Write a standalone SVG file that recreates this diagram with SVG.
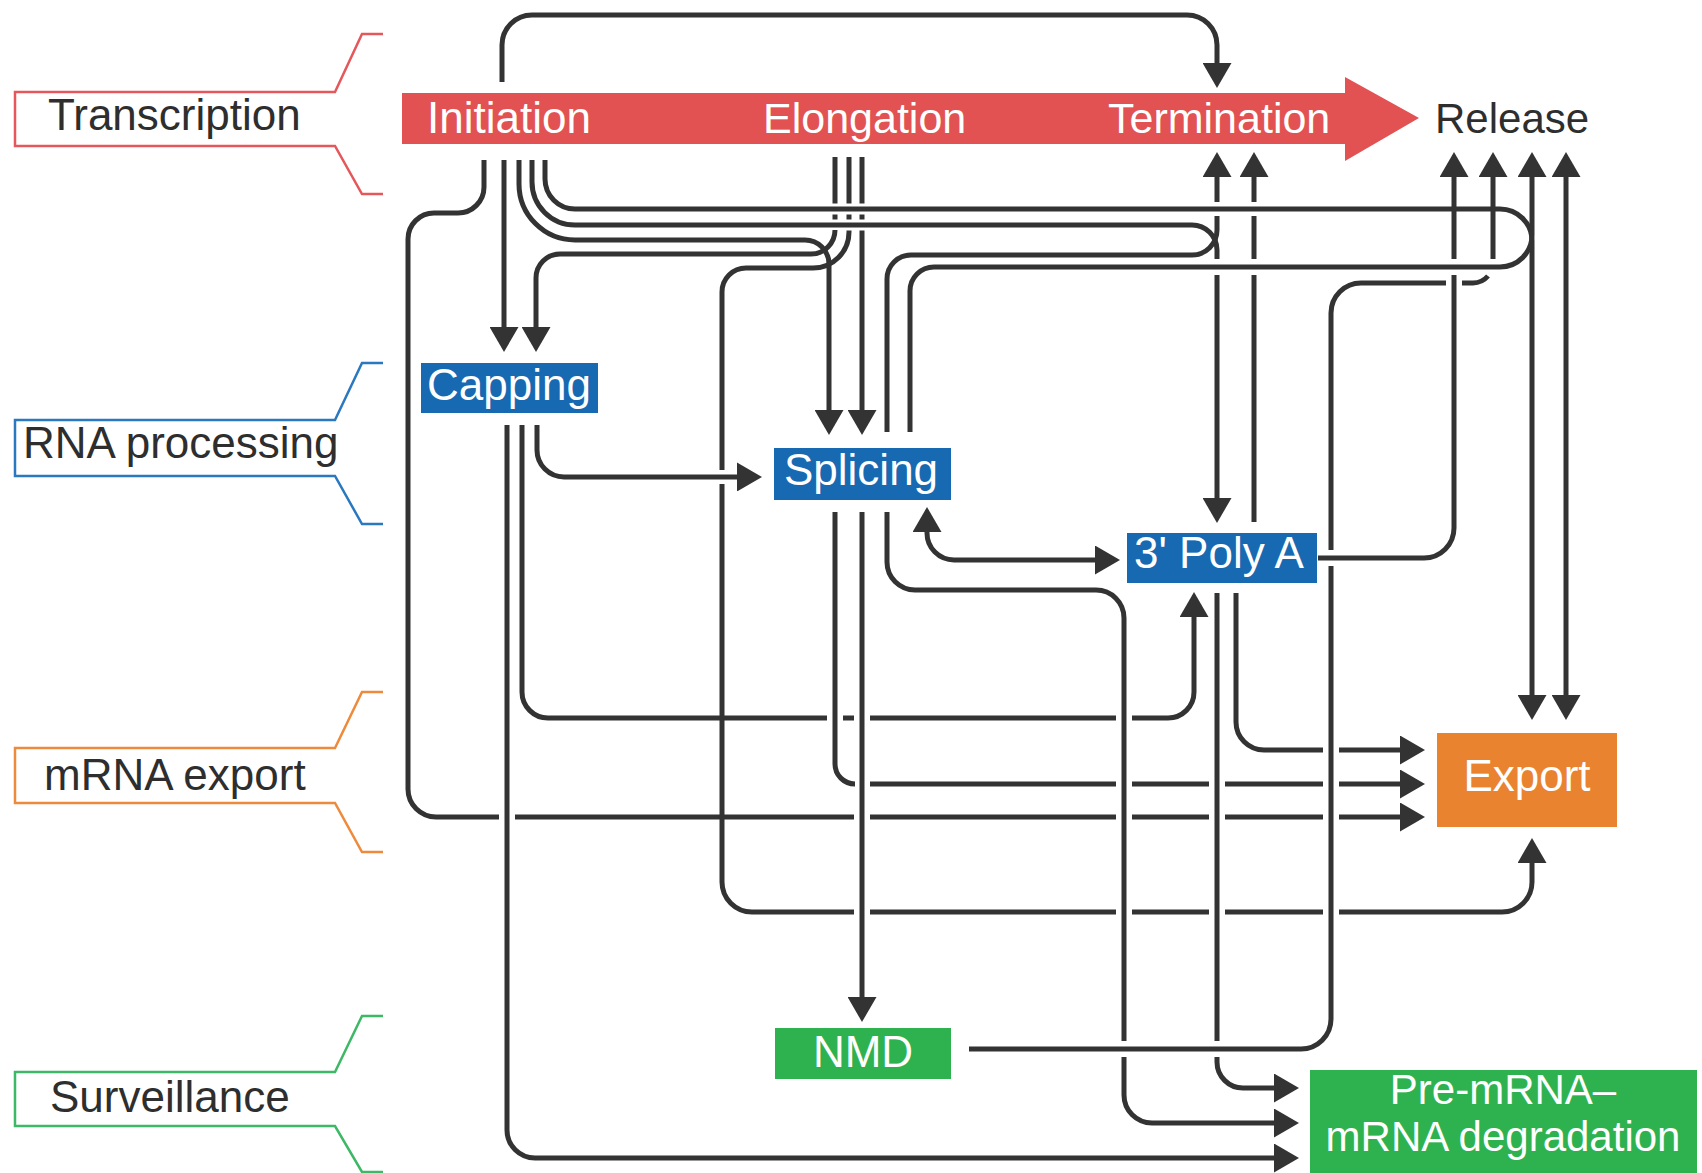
<svg xmlns="http://www.w3.org/2000/svg" width="1702" height="1173" viewBox="0 0 1702 1173">
<style>
text{font-family:"Liberation Sans",Arial,Helvetica,sans-serif;font-size:44px}
.w{fill:#fff}
.k{fill:#2e2e2e}
.c path{fill:none;stroke:#333;stroke-width:5}
.ar{marker-end:url(#ah)}
.br{fill:none;stroke-width:2.5}
.blue{fill:#1769B2}
.green{fill:#2EB24F}
</style>
<defs>
<marker id="ah" viewBox="0 0 25 29" refX="0" refY="14.5" markerWidth="25" markerHeight="29" markerUnits="userSpaceOnUse" orient="auto-start-reverse"><path d="M0,0L25,14.5L0,29Z" fill="#333"/></marker>
</defs>
<rect width="1702" height="1173" fill="#fff"/>

<g id="lane-transcription"><path class="br" stroke="#E5575A" d="M383,34H362L335,92H15V146H335L362,194H383"/><text x="48" y="130" class="k">Transcription</text></g>
<g id="lane-rna-processing"><path class="br" stroke="#2A78BF" d="M383,363H362L335,420H15V476H335L362,524H383"/><text x="23" y="458" class="k">RNA processing</text></g>
<g id="lane-mrna-export"><path class="br" stroke="#EE8A3C" d="M383,692H362L335,748H15V803H335L362,852H383"/><text x="44" y="790" class="k">mRNA export</text></g>
<g id="lane-surveillance"><path class="br" stroke="#3DB866" d="M383,1016H362L335,1072H15V1126H335L362,1172H383"/><text x="50" y="1112" class="k">Surveillance</text></g>

<g id="transcription-bar"><path d="M402,93H1345V77L1419,118L1345,161V144H402Z" fill="#E25252"/></g>
<g id="initiation"><text x="427" y="133" class="w">Initiation</text></g>
<g id="elongation"><text x="763" y="133" class="w" style="font-size:43px">Elongation</text></g>
<g id="termination"><text x="1108" y="133" class="w" style="font-size:43px">Termination</text></g>
<g id="release"><text x="1435" y="133" class="k" style="font-size:42px">Release</text></g>

<g id="capping"><rect x="421" y="363" width="177" height="50" class="blue"/><text x="427" y="400" class="w">Capping</text></g>
<g id="splicing"><rect x="774" y="448" width="177" height="52" class="blue"/><text x="784" y="485" class="w">Splicing</text></g>
<g id="polya"><rect x="1127" y="533" width="190" height="50" class="blue"/><text x="1134" y="568" class="w">3' Poly A</text></g>
<g id="export"><rect x="1437" y="733" width="180" height="94" fill="#E9832F"/><text x="1527" y="791" class="w" text-anchor="middle">Export</text></g>
<g id="nmd"><rect x="775" y="1028" width="176" height="51" class="green"/><text x="863" y="1067" class="w" text-anchor="middle">NMD</text></g>
<g id="degradation"><rect x="1310" y="1070" width="387" height="103" class="green"/><text x="1503" y="1104" class="w" text-anchor="middle" style="font-size:42px">Pre-mRNA–</text><text x="1503" y="1151" class="w" text-anchor="middle" style="font-size:42px">mRNA degradation</text></g>

<g id="connectors" class="c">
<path class="ar" d="M502,82V45A30,30 0 0 1 532,15H1187A30,30 0 0 1 1217,45V63"/>
<path class="ar" d="M484,160V187A26,26 0 0 1 458,213H434A26,26 0 0 0 408,239V789A28,28 0 0 0 436,817H499M515,817H854M870,817H1116M1132,817H1209M1225,817H1323M1339,817H1400"/>
<path class="ar" d="M504,160V327"/>
<path class="ar" d="M519,160V184A56,56 0 0 0 575,240H805A24,24 0 0 1 829,264V410"/>
<path class="ar" d="M532,160V182A43,43 0 0 0 575,225H1192A25,25 0 0 1 1217,250V259M1217,275V498"/>
<path class="ar" d="M545,160V179A30,30 0 0 0 575,209H1500A32,32 0 0 1 1532,241V695"/>
<path class="ar" d="M835,157V203.5M835,214.5V219.5M835,230A24,24 0 0 1 811,254H560A24,24 0 0 0 536,278V327"/>
<path class="ar" d="M849,157V203.5M849,214.5V219.5M849,230.5V232A36,36 0 0 1 813,268H746A24,24 0 0 0 722,292V470M722,484V882A30,30 0 0 0 752,912H854M870,912H1116M1132,912H1209M1225,912H1323M1339,912H1502A30,30 0 0 0 1532,882V863"/>
<path class="ar" d="M862,157V203.5M862,214.5V219.5M862,230.5V410"/>
<path class="ar" d="M507,425V1130A28,28 0 0 0 535,1158H1274"/>
<path class="ar" d="M522,425V692A26,26 0 0 0 548,718H827M843,718H854M870,718H1116M1132,718H1168A26,26 0 0 0 1194,692V617"/>
<path class="ar" d="M537,425V450A27,27 0 0 0 564,477H737"/>
<path class="ar" d="M887,432V279A24,24 0 0 1 911,255H1192A25,25 0 0 0 1217,230V216M1217,202V177"/>
<path class="ar" d="M910,432V291A24,24 0 0 1 934,267H1500A32,32 0 0 0 1532,235V177"/>
<path class="ar" d="M1254,522V275M1254,259V216M1254,202V177"/>
<path class="ar" style="marker-start:url(#ah)" d="M927,532V533A27,27 0 0 0 954,560H1095"/>
<path class="ar" d="M887,512V562A28,28 0 0 0 915,590H1096A28,28 0 0 1 1124,618V1041M1124,1057V1095A28,28 0 0 0 1152,1123H1274"/>
<path class="ar" d="M835,512V764A20,20 0 0 0 855,784M870,784H1116M1132,784H1209M1225,784H1323M1339,784H1400"/>
<path class="ar" d="M862,512V997"/>
<path class="ar" d="M1236,593V722A28,28 0 0 0 1264,750H1323M1339,750H1400"/>
<path class="ar" d="M1217,593V1041M1217,1057V1062A26,26 0 0 0 1243,1088H1274"/>
<path class="ar" d="M1318,558H1424A30,30 0 0 0 1454,528V275M1454,259V177"/>
<path class="ar" d="M969,1049H1301A30,30 0 0 0 1331,1019V566M1331,550V313A30,30 0 0 1 1361,283H1446M1462,283H1473A20,20 0 0 0 1488,276M1493,259V177"/>
<path class="ar" style="marker-start:url(#ah)" d="M1566,177V695"/>
</g>
</svg>
